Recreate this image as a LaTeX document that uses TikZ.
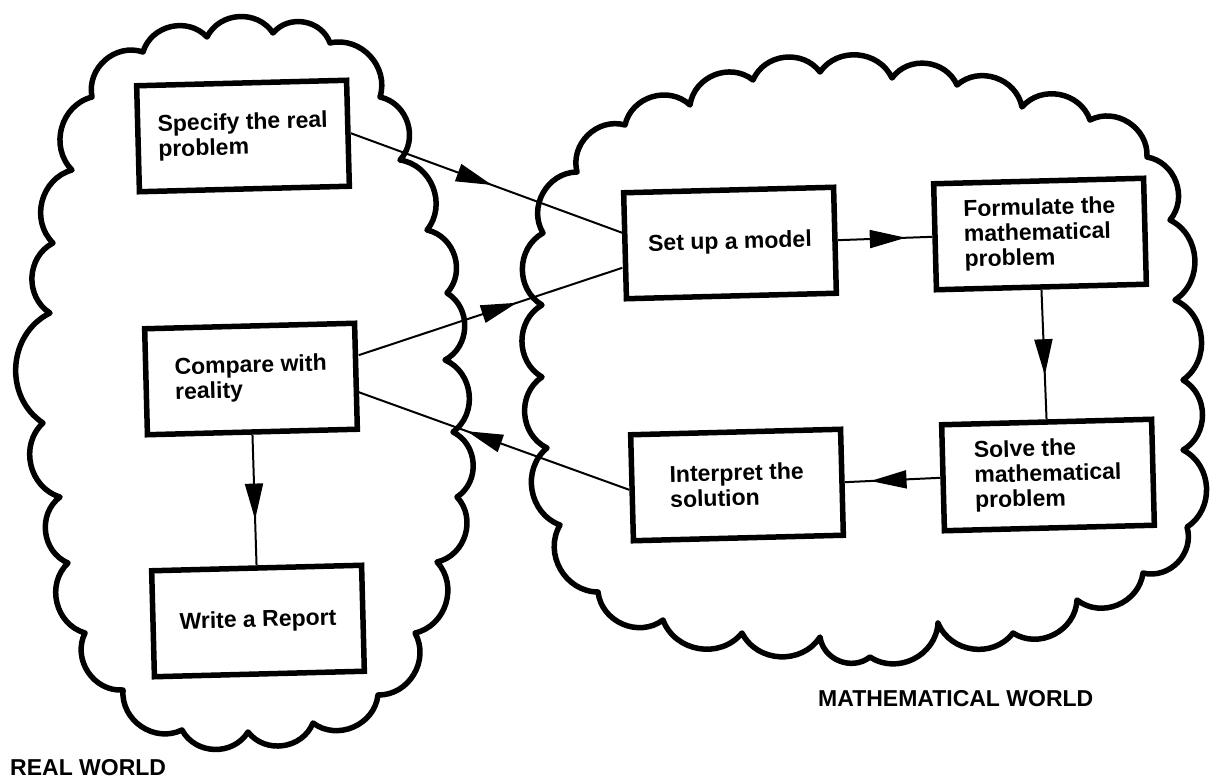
\documentclass[tikz,border=0pt]{standalone}
\usepackage{fontspec}
\setmainfont{Liberation Sans}
\usetikzlibrary{arrows.meta,decorations.markings,calc}

\begin{document}
\begin{tikzpicture}[x=1pt,y=-1pt,
  stepbox/.style={draw, line width=5.5pt, minimum width=210pt, minimum height=106pt,
    inner sep=0pt, align=left, rotate=1.5,
    font=\fontsize{23pt}{25pt}\selectfont\bfseries},
  cloudline/.style={line width=5.5pt, line join=round, line cap=round},
  link/.style={line width=2pt},
  midarrow/.style={postaction={decorate}, decoration={markings,
    mark=at position #1 with {\arrow{Triangle[length=36pt,width=18pt]}}}},
  worldlabel/.style={font=\fontsize{23pt}{24pt}\selectfont\bfseries,
    inner sep=0pt, anchor=base west}]

\useasboundingbox (0,0) rectangle (1210,778);
\fill[white] (0,0) rectangle (1210,778);

% scalloped outlines of the two worlds
\begin{scope}[every to/.style={bend left=60, looseness=1.1}]
\draw[cloudline] (92,97) to (143,52) to (207,37) to (273,33) to (330,43)
  to (380,97) to (400,160) to (427,230) to (447,293) to (445,360)
  to (453,432) to (457,497) to (437,562) to (415,633) to (378,695)
  to (313,723) to (248,732) to (182,730) to (123,690) to (85,633)
  to (68,563) to (60,497) to (43,423) to (50,313) to (53,243)
  to (72,170) to (92,97);
\draw[cloudline] (577,172) to (625,125) to (690,105) to (753,80) to (820,72)
  to (892,78) to (957,85) to (1022,107) to (1090,120) to (1147,157)
  to (1170,220) to (1175,300) to (1183,380) to (1183,450) to (1187,527)
  to (1143,573) to (1077,600) to (1013,633) to (938,623) to (870,657)
  to (820,637) to (742,633) to (663,620) to (598,592) to (560,525)
  to (547,448) to (542,377) to (542,305) to (543,233) to (577,172);
\end{scope}

% process steps
\node[stepbox] (spec)   at (243,136)  {Specify the real\\problem};
\node[stepbox] (comp)   at (251,379)  {Compare with\\reality};
\node[stepbox] (rep)    at (258,621)  {Write a Report};
\node[stepbox] (setup)  at (730,243)  {Set up a model};
\node[stepbox] (form)   at (1040,234) {Formulate the\\mathematical\\problem};
\node[stepbox] (solve)  at (1048,475) {Solve the\\mathematical\\problem};
\node[stepbox] (interp) at (737,485)  {Interpret the\\solution};

% connectors
\draw[link, midarrow=0.52] (spec.east) -- ($(setup.west)+(0,-13)$);
\draw[link, midarrow=0.6] ($(comp.east)+(0,-21)$) -- ($(setup.west)+(0,22)$);
\draw[link, midarrow=0.6] ($(interp.west)+(0,2)$) -- ($(comp.east)+(0,16)$);
\draw[link, midarrow=0.72] (setup.east) -- (form.west);
\draw[link, midarrow=0.66] (form.south) -- (solve.north);
\draw[link, midarrow=0.73] (solve.west) -- (interp.east);
\draw[link, midarrow=0.65] (comp.south) -- (rep.north);

% world captions
\node[worldlabel] (realw) at (10,775) {REAL WORLD};
\node[worldlabel] (mathw) at (818,706) {MATHEMATICAL WORLD};
\end{tikzpicture}
\end{document}
